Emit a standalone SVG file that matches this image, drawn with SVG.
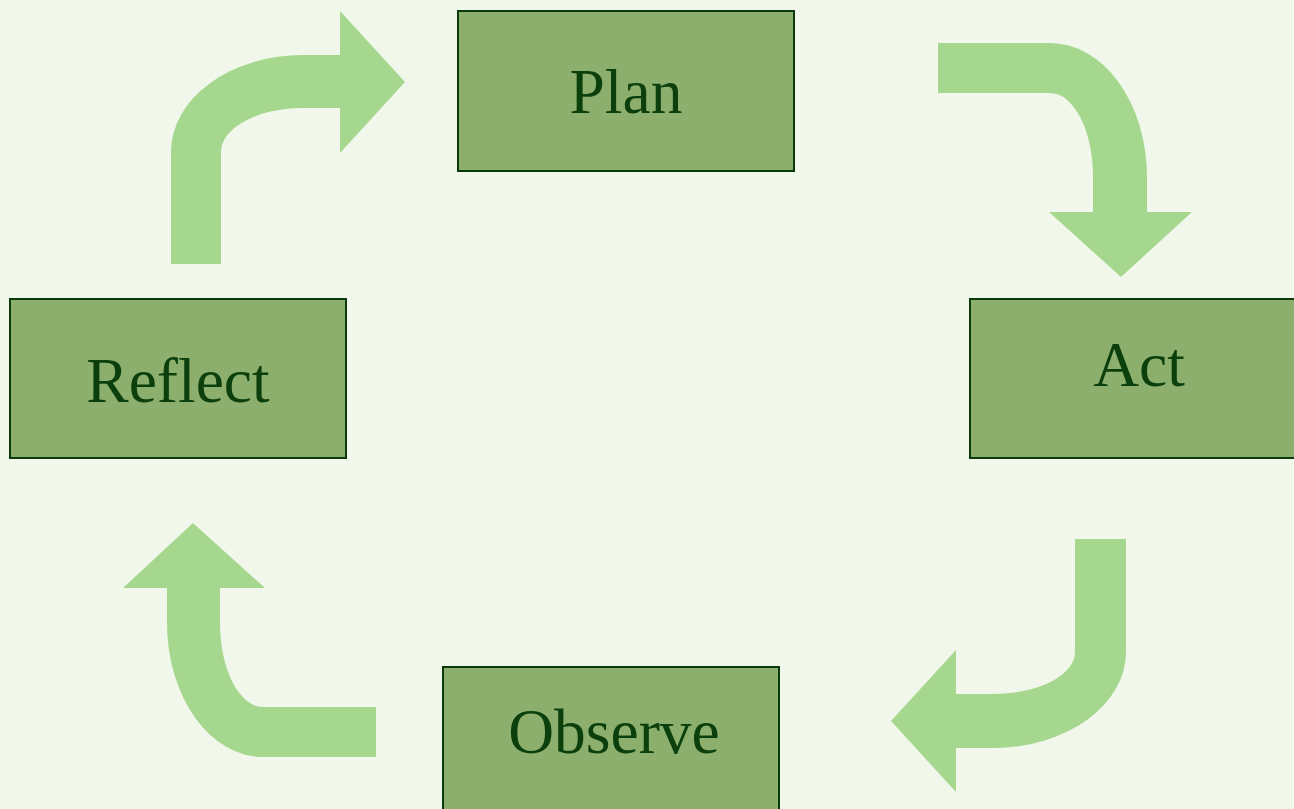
<svg xmlns="http://www.w3.org/2000/svg" width="1294" height="809" viewBox="0 0 1294 809">
<style>
.box{fill:#8caf6e;stroke:#0a3a0a;stroke-width:2}
.lbl{font-family:"Liberation Serif","Times New Roman",serif;font-size:63.5px;fill:#0b3f0b;text-anchor:middle}
.arr{fill:#a5d78f}
</style>
<rect x="0" y="0" width="1294" height="809" fill="#f1f7ea"/>
<g id="connectors">
<path class="arr" d="M171,264 L171,152 A132,97 0 0 1 303,55 L340,55 L340,11 L405,82 L340,153 L340,108 L303,108 A82,44 0 0 0 221,152 L221,264 Z"/>
<path class="arr" d="M938,43 L1050,43 A97,134 0 0 1 1147,177 L1147,212 L1192,212 L1121,277 L1049,212 L1093,212 L1093,177 A43,84 0 0 0 1050,93 L938,93 Z"/>
<path class="arr" d="M1075,539 L1126,539 L1126,652 A133,96 0 0 1 993,748 L956,748 L956,792 L891,721 L956,650 L956,694 L993,694 A82,42 0 0 0 1075,652 Z"/>
<path class="arr" d="M376,707 L376,757 L263,757 A96,134 0 0 1 167,623 L167,588 L123,588 L193,523 L265,588 L220,588 L220,623 A43,84 0 0 0 263,707 Z"/>
</g>
<g id="plan"><rect class="box" x="458" y="11" width="336" height="160"/><text class="lbl" x="626" y="113">Plan</text></g>
<g id="act"><rect class="box" x="970" y="299" width="336" height="159"/><text class="lbl" x="1139" y="386">Act</text></g>
<g id="observe"><rect class="box" x="443" y="667" width="336" height="160"/><text class="lbl" x="614" y="753">Observe</text></g>
<g id="reflect"><rect class="box" x="10" y="299" width="336" height="159"/><text class="lbl" x="178" y="402">Reflect</text></g>
</svg>
